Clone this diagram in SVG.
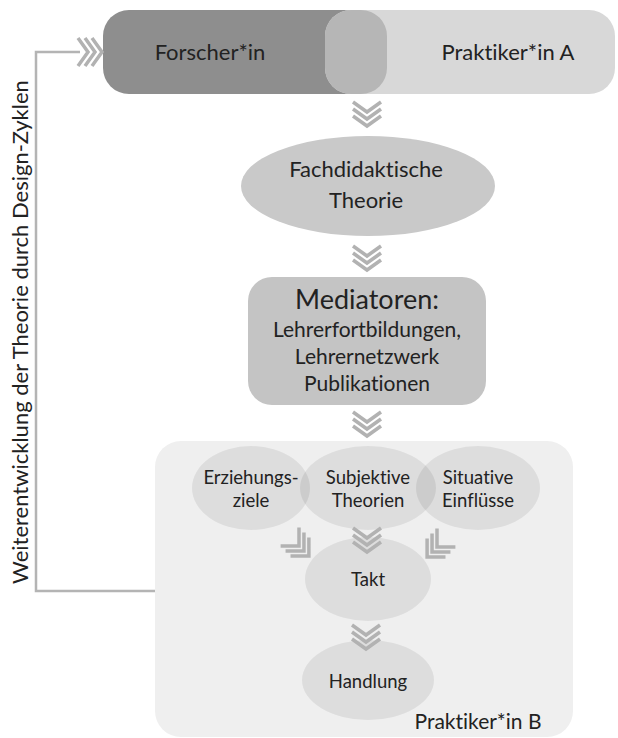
<svg xmlns="http://www.w3.org/2000/svg" width="618" height="738" viewBox="0 0 618 738">
<defs>
<style>
text{font-family:Lato,"Noto Sans","Liberation Sans",sans-serif;fill:#222;text-anchor:middle;font-variant-ligatures:none}
.chev{fill:none;stroke:#b2b2b2;stroke-width:3.5;stroke-linejoin:miter}
.line{fill:none;stroke:#b4b4b4;stroke-width:2.5}
.inner{fill:#000;fill-opacity:0.075}
</style>
<g id="chevDown">
<path class="chev" d="M-14,0 L0,10 L14,0 M-14,7 L0,17 L14,7 M-14,14 L0,24 L14,14"/>
</g>
<g id="chevDiag">
<path class="chev" d="M-13,-13 L0,0 L13,-13 M-13,-6 L0,7 L13,-6 M-13,1 L0,14 L13,1"/>
</g>
</defs>
<rect width="618" height="738" fill="#fff"/>

<g id="praktikerB">
<rect x="155" y="441" width="418" height="296" rx="26" fill="#efefef"/>
<text x="478" y="729" font-size="21">Praktiker*in B</text>
</g>

<g id="top">
<g id="forscher">
<rect x="103" y="10" width="284" height="84" rx="26" fill="#8e8e8e"/>
</g>
<g id="praktikerA">
<rect x="325" y="10" width="290" height="84" rx="26" fill="#d8d8d8"/>
</g>
<path d="M351,10 L361,10 A26,26 0 0 1 387,36 L387,68 A26,26 0 0 1 361,94 L351,94 A26,26 0 0 1 325,68 L325,36 A26,26 0 0 1 351,10 Z" fill="#b6b6b6"/>
<text x="210" y="60" font-size="22">Forscher*in</text>
<text x="508" y="60" font-size="22">Praktiker*in A</text>
</g>

<g id="theorie">
<ellipse cx="368" cy="186" rx="127" ry="50" fill="#c9c9c9"/>
<text x="366" y="177" font-size="22">Fachdidaktische</text>
<text x="366" y="208" font-size="22">Theorie</text>
</g>

<g id="mediatoren">
<rect x="248" y="277" width="238" height="128" rx="24" fill="#c4c4c4"/>
<text x="367" y="309" font-size="27">Mediatoren:</text>
<text x="367" y="337" font-size="21">Lehrerfortbildungen,</text>
<text x="367" y="364" font-size="21">Lehrernetzwerk</text>
<text x="367" y="391" font-size="21">Publikationen</text>
</g>

<g id="erziehungsziele">
<ellipse class="inner" cx="251" cy="488" rx="59" ry="42"/>
<text x="251" y="484" font-size="18.5">Erziehungs-</text>
<text x="251" y="507" font-size="18.5">ziele</text>
</g>
<g id="subjektive">
<ellipse class="inner" cx="368" cy="488" rx="68" ry="42"/>
<text x="368" y="484" font-size="18.5">Subjektive</text>
<text x="368" y="507" font-size="18.5">Theorien</text>
</g>
<g id="situative">
<ellipse class="inner" cx="478" cy="488" rx="62" ry="42"/>
<text x="478" y="484" font-size="18.5">Situative</text>
<text x="478" y="507" font-size="18.5">Einflüsse</text>
</g>
<g id="takt">
<ellipse class="inner" cx="368" cy="579" rx="63" ry="42"/>
<text x="368" y="586" font-size="18.5">Takt</text>
</g>
<g id="handlung">
<ellipse class="inner" cx="368" cy="680" rx="66" ry="40"/>
<text x="368" y="688" font-size="18.5">Handlung</text>
</g>

<g id="connectors">
<use href="#chevDown" transform="translate(367,102)"/>
<use href="#chevDown" transform="translate(367,246)"/>
<use href="#chevDown" transform="translate(367,412)"/>
<use href="#chevDown" transform="translate(367,528)"/>
<use href="#chevDown" transform="translate(366,625)"/>
<use href="#chevDiag" transform="translate(299,546) rotate(-45)"/>
<use href="#chevDiag" transform="translate(437,547) rotate(45)"/>
<path class="line" d="M155,591 L36,591 L36,52 L80,52"/>
<use href="#chevDown" transform="translate(78,52) rotate(-90)"/>
<text x="28" y="332" font-size="22" transform="rotate(-90 28 332)">Weiterentwicklung der Theorie durch Design-Zyklen</text>
</g>
</svg>
